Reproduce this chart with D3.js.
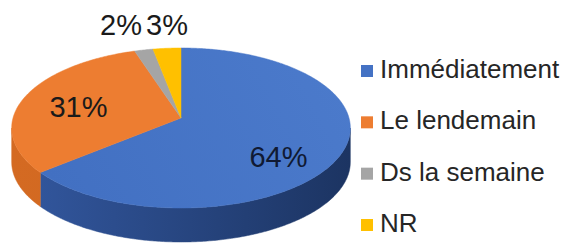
<!DOCTYPE html>
<html><head><meta charset="utf-8">
<script src="https://cdn.jsdelivr.net/npm/d3@7"></script>
<style>html,body{margin:0;padding:0;background:#fff;}svg{display:block;}</style>
</head><body>
<svg id="c" width="564" height="247"></svg>
<script>
const categories = ["Immédiatement", "Le lendemain", "Ds la semaine", "NR"];
const values = [64, 31, 2, 3];
const labels = ["64%", "31%", "2%", "3%"];
const colors = ["#4472C4", "#ED7D31", "#A5A5A5", "#FFC000"];

const svg = d3.select("#c");
const defs = svg.append("defs");

// perspective projection of the pie plane
const X0 = 181, Y0 = 118, A = 168, B = 78.75, K = 0.125, DEPTH = 34;
function proj(theta, r = 1, dy = 0) {
  const u = r * Math.sin(theta), v = r * Math.cos(theta), w = 1 + K * v;
  return [X0 + A * u / w, Y0 - B * v / w + dy];
}
function arcPts(a0, a1, r, dy) {
  const n = Math.max(2, Math.ceil(Math.abs(a1 - a0) / 0.01));
  return d3.range(n + 1).map(i => proj(a0 + (a1 - a0) * i / n, r, dy));
}

const pie = d3.pie().sort(null).startAngle(0).endAngle(2 * Math.PI);
const arcs = pie(values);

// side gradients
const sideGrad = [["#3358a0", "#1c3462"], ["#d46a22", "#c9641f"], ["#8a8a8a", "#7a7a7a"], ["#d9a400", "#c89600"]];
sideGrad.forEach((g, i) => {
  const lg = defs.append("linearGradient").attr("id", "sg" + i)
    .attr("gradientUnits", "userSpaceOnUse").attr("x1", 10).attr("x2", 350).attr("y1", 0).attr("y2", 0);
  lg.append("stop").attr("offset", 0).attr("stop-color", g[0]);
  lg.append("stop").attr("offset", 1).attr("stop-color", g[1]);
});
const topGrad = defs.append("linearGradient").attr("id", "tg0")
  .attr("gradientUnits", "userSpaceOnUse").attr("x1", 60).attr("y1", 200).attr("x2", 330).attr("y2", 60);
topGrad.append("stop").attr("offset", 0).attr("stop-color", "#4270c2");
topGrad.append("stop").attr("offset", 1).attr("stop-color", "#4b7acb");

// visible outer side range
const visA = Math.PI - Math.acos(K), visB = Math.PI + Math.acos(K);
const line = d3.line();
const g = svg.append("g");
arcs.forEach((d, i) => {
  const a0 = Math.max(d.startAngle, visA), a1 = Math.min(d.endAngle, visB);
  if (a1 <= a0) return;
  const topP = arcPts(a0, a1, 1, 0);
  const botP = arcPts(a1, a0, 1, DEPTH);
  g.append("path").attr("d", line(topP.concat(botP)) + "Z")
    .attr("fill", "url(#sg" + i + ")").attr("stroke", "url(#sg" + i + ")").attr("stroke-width", 0.5);
});
arcs.forEach((d, i) => {
  const pts = [[X0, Y0]].concat(arcPts(d.startAngle, d.endAngle, 1, 0));
  g.append("path").attr("d", line(pts) + "Z")
    .attr("fill", i === 0 ? "url(#tg0)" : colors[i])
    .attr("stroke", i === 0 ? "#4472C4" : colors[i]).attr("stroke-width", 0.5);
});

// data labels
const labelPlace = [
  { r: 0.62, dx: 0, dy: 28 },
  { r: 0.65, dx: 0, dy: 13 },
  { r: 1.25, dx: -38, dy: 0 },
  { r: 1.25, dx: 0, dy: 0 }
];
arcs.forEach((d, i) => {
  const mid = (d.startAngle + d.endAngle) / 2;
  const p = labelPlace[i];
  let [x, y] = proj(mid, p.r);
  if (i >= 2) y = 35; else y = y + p.dy;
  if (i === 3) x = 167;
  if (i === 2) x = 121;
  svg.append("text").attr("x", x + (i < 2 ? p.dx : 0)).attr("y", y)
    .attr("text-anchor", "middle")
    .attr("font-family", "Liberation Sans, Arial, sans-serif")
    .attr("font-size", 29).attr("fill", i === 0 ? "#101a33" : "#1a1a1a")
    .text(labels[i]);
});

// legend
const ly = d3.scalePoint().domain(categories).range([78, 232]);
const leg = svg.append("g");
categories.forEach((c, i) => {
  const y = ly(c);
  leg.append("rect").attr("x", 361).attr("y", y - 13).attr("width", 12).attr("height", 12).attr("fill", colors[i]);
  leg.append("text").attr("x", 380).attr("y", y)
    .attr("font-family", "Liberation Sans, Arial, sans-serif")
    .attr("font-size", 26).attr("fill", "#262626").text(c);
});
</script>
</body></html>
